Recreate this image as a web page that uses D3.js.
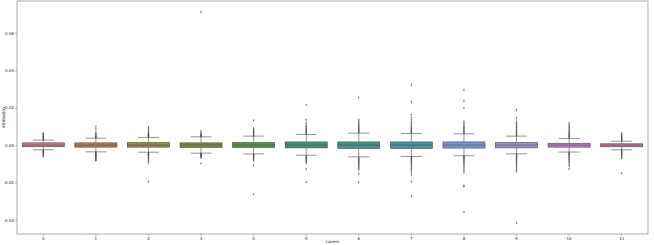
<html>
<head>
<script src="https://cdn.jsdelivr.net/npm/d3@7"></script>
<style>
body { margin: 0; background: #fff; }
text { font-family: "DejaVu Sans", sans-serif; fill: #222; }
</style>
</head>
<body>
<svg id="chart" width="654" height="245"></svg>
<script>
// layers 0..11
var layers = ["0","1","2","3","4","5","6","7","8","9","10","11"];
var yTicks = [-0.04, -0.02, 0.00, 0.02, 0.04, 0.06];

// box stats
var q1     = [-0.0009,-0.0011,-0.0011,-0.0013,-0.0013,-0.0015,-0.0018,-0.0018,-0.0016,-0.0015,-0.0011,-0.0009];
var median = [0,0,0,0,0,0,0,0,0,0,0,0];
var q3     = [0.0012,0.0012,0.0014,0.0012,0.0014,0.0017,0.0017,0.0017,0.0017,0.0014,0.0010,0.0007];
var whiskLo= [-0.0025,-0.0036,-0.0038,-0.0043,-0.0047,-0.0054,-0.0063,-0.0061,-0.0057,-0.0047,-0.0037,-0.0025];
var whiskHi= [0.0027,0.0037,0.0041,0.0044,0.0048,0.0057,0.0064,0.0062,0.0060,0.0048,0.0035,0.0021];

var fliers = [
  [0.0030,0.0033,0.0036,0.0039,0.0042,0.0045,0.0048,0.0052,0.0056,0.0060,0.0064,-0.0028,-0.0031,-0.0034,-0.0037,-0.0040,-0.0044,-0.0048,-0.0052,-0.0056,-0.0061],
  [0.0040,0.0043,0.0046,0.0050,0.0055,0.0062,0.0070,0.0086,0.0100,-0.0039,-0.0042,-0.0045,-0.0048,-0.0051,-0.0054,-0.0057,-0.0061,-0.0065,-0.0069,-0.0074,-0.0078,-0.0082],
  [0.0044,0.0047,0.0050,0.0053,0.0057,0.0061,0.0066,0.0072,0.0080,0.0088,0.0096,-0.0041,-0.0044,-0.0047,-0.0050,-0.0053,-0.0057,-0.0061,-0.0066,-0.0072,-0.0078,-0.0085,-0.0095,-0.0195],
  [0.0047,0.0050,0.0053,0.0057,0.0062,0.0068,0.0076,0.0711,-0.0046,-0.0049,-0.0052,-0.0055,-0.0059,-0.0063,-0.0068,-0.0098],
  [0.0051,0.0055,0.0059,0.0063,0.0068,0.0073,0.0078,0.0084,0.0090,0.0132,-0.0050,-0.0053,-0.0056,-0.0060,-0.0064,-0.0068,-0.0073,-0.0078,-0.0083,-0.0107,-0.0262],
  [0.0061,0.0065,0.0069,0.0073,0.0078,0.0083,0.0088,0.0094,0.0100,0.0108,0.0118,0.0135,0.0215,-0.0058,-0.0062,-0.0066,-0.0070,-0.0074,-0.0079,-0.0084,-0.0090,-0.0096,-0.0128,-0.0198],
  [0.0068,0.0072,0.0076,0.0080,0.0085,0.0090,0.0095,0.0100,0.0106,0.0113,0.0120,0.0128,0.0135,0.0255,-0.0067,-0.0071,-0.0075,-0.0079,-0.0083,-0.0088,-0.0093,-0.0098,-0.0104,-0.0110,-0.0117,-0.0124,-0.0132,-0.0153,-0.0200],
  [0.0066,0.0070,0.0074,0.0078,0.0083,0.0088,0.0094,0.0100,0.0108,0.0116,0.0125,0.0135,0.0148,0.0162,0.0230,0.0321,-0.0065,-0.0069,-0.0073,-0.0077,-0.0082,-0.0087,-0.0092,-0.0098,-0.0104,-0.0111,-0.0118,-0.0126,-0.0135,-0.0146,-0.0159,-0.0195,-0.0273],
  [0.0064,0.0068,0.0072,0.0077,0.0082,0.0088,0.0094,0.0101,0.0109,0.0117,0.0126,0.0199,0.0237,0.0296,-0.0061,-0.0065,-0.0069,-0.0073,-0.0078,-0.0083,-0.0089,-0.0095,-0.0102,-0.0110,-0.0118,-0.0127,-0.0136,-0.0146,-0.0216,-0.0221,-0.0357],
  [0.0052,0.0056,0.0060,0.0065,0.0070,0.0075,0.0081,0.0087,0.0094,0.0101,0.0109,0.0117,0.0126,0.0144,0.0189,-0.0051,-0.0055,-0.0059,-0.0064,-0.0069,-0.0074,-0.0080,-0.0086,-0.0093,-0.0100,-0.0108,-0.0116,-0.0125,-0.0133,-0.0141,-0.0417],
  [0.0039,0.0043,0.0047,0.0051,0.0056,0.0061,0.0066,0.0072,0.0078,0.0085,0.0093,0.0101,0.0109,0.0118,-0.0041,-0.0045,-0.0049,-0.0053,-0.0058,-0.0063,-0.0068,-0.0074,-0.0080,-0.0087,-0.0094,-0.0102,-0.0111,-0.0128],
  [0.0025,0.0029,0.0033,0.0037,0.0041,0.0046,0.0051,0.0057,0.0064,-0.0029,-0.0033,-0.0037,-0.0041,-0.0046,-0.0051,-0.0057,-0.0063,-0.0070,-0.0150]
];

// seaborn husl(12), desaturated like boxplot does
var palette = ["#f77189","#e08432","#b89a31","#97a431","#50b131","#34ae8d","#36ada4","#38a8c5","#6e9bf4","#a48cf4","#e46ff4","#f66bad"];

var svg = d3.select("#chart");
var plotL = 17, plotR = 648, plotT = 1, plotB = 234;

var x = d3.scaleBand().domain(layers).range([plotL, plotR]);
var y = d3.scaleLinear().domain([-0.0475, 0.077]).range([plotB, plotT]);
var lineCol = "#4a4a4a";

function desat(c) {
  var h = d3.hsl(c); h.s *= 0.75;
  return d3.interpolateRgb(h.formatHex(), "#444")(0.12);
}

var data = layers.map(function(l, i) {
  return {layer: l, q1: q1[i], med: median[i], q3: q3[i], lo: whiskLo[i], hi: whiskHi[i], fl: fliers[i], col: desat(palette[i])};
});

var bw = x.bandwidth() * 0.8;
var g = svg.append("g");

data.forEach(function(d) {
  var cx = x(d.layer) + x.bandwidth() / 2;
  var gg = g.append("g");
  // whiskers
  gg.append("line").attr("x1", cx).attr("x2", cx).attr("y1", y(d.q3)).attr("y2", y(d.hi))
    .attr("stroke", lineCol).attr("stroke-width", 0.6);
  gg.append("line").attr("x1", cx).attr("x2", cx).attr("y1", y(d.q1)).attr("y2", y(d.lo))
    .attr("stroke", lineCol).attr("stroke-width", 0.6);
  // caps
  [d.hi, d.lo].forEach(function(v) {
    gg.append("line").attr("x1", cx - bw / 4).attr("x2", cx + bw / 4).attr("y1", y(v)).attr("y2", y(v))
      .attr("stroke", lineCol).attr("stroke-width", 0.6);
  });
  // box
  gg.append("rect").attr("x", cx - bw / 2).attr("width", bw)
    .attr("y", y(d.q3)).attr("height", y(d.q1) - y(d.q3))
    .attr("fill", d.col).attr("stroke", lineCol).attr("stroke-width", 0.6);
  gg.append("line").attr("x1", cx - bw / 2).attr("x2", cx + bw / 2).attr("y1", y(d.med)).attr("y2", y(d.med))
    .attr("stroke", lineCol).attr("stroke-width", 0.6);
  // fliers
  gg.selectAll("path.fl").data(d.fl).enter().append("path")
    .attr("d", d3.symbol().type(d3.symbolDiamond).size(2.4))
    .attr("transform", function(v) { return "translate(" + cx + "," + y(v) + ")"; })
    .attr("fill", lineCol).attr("opacity", 0.75);
});

// axes
var xAxis = d3.axisBottom(x).tickSize(2).tickPadding(1);
var yAxis = d3.axisLeft(y).tickValues(yTicks).tickSize(2).tickPadding(1)
  .tickFormat(function(v) { return v.toFixed(2); });

var gx = svg.append("g").attr("transform", "translate(0," + plotB + ")").call(xAxis);
var gy = svg.append("g").attr("transform", "translate(" + plotL + ",0)").call(yAxis);
[gx, gy].forEach(function(a) {
  a.select(".domain").remove();
  a.selectAll(".tick line").attr("stroke", "#666").attr("stroke-width", 0.5);
  a.selectAll(".tick text").attr("font-size", 4).style("font-family", "DejaVu Sans").attr("fill", "#444");
});

// frame
svg.append("rect").attr("x", plotL).attr("y", plotT).attr("width", plotR - plotL).attr("height", plotB - plotT)
  .attr("fill", "none").attr("stroke", "#999").attr("stroke-width", 0.8);

svg.append("text").attr("x", (plotL + plotR) / 2).attr("y", 243).attr("text-anchor", "middle")
  .attr("font-size", 4).attr("fill", "#444").text("Layers");
svg.append("text").attr("transform", "translate(4.5," + (plotT + plotB) / 2 + ") rotate(-90)")
  .attr("text-anchor", "middle").attr("font-size", 4).attr("fill", "#444").text("Attribution");
</script>
</body>
</html>
